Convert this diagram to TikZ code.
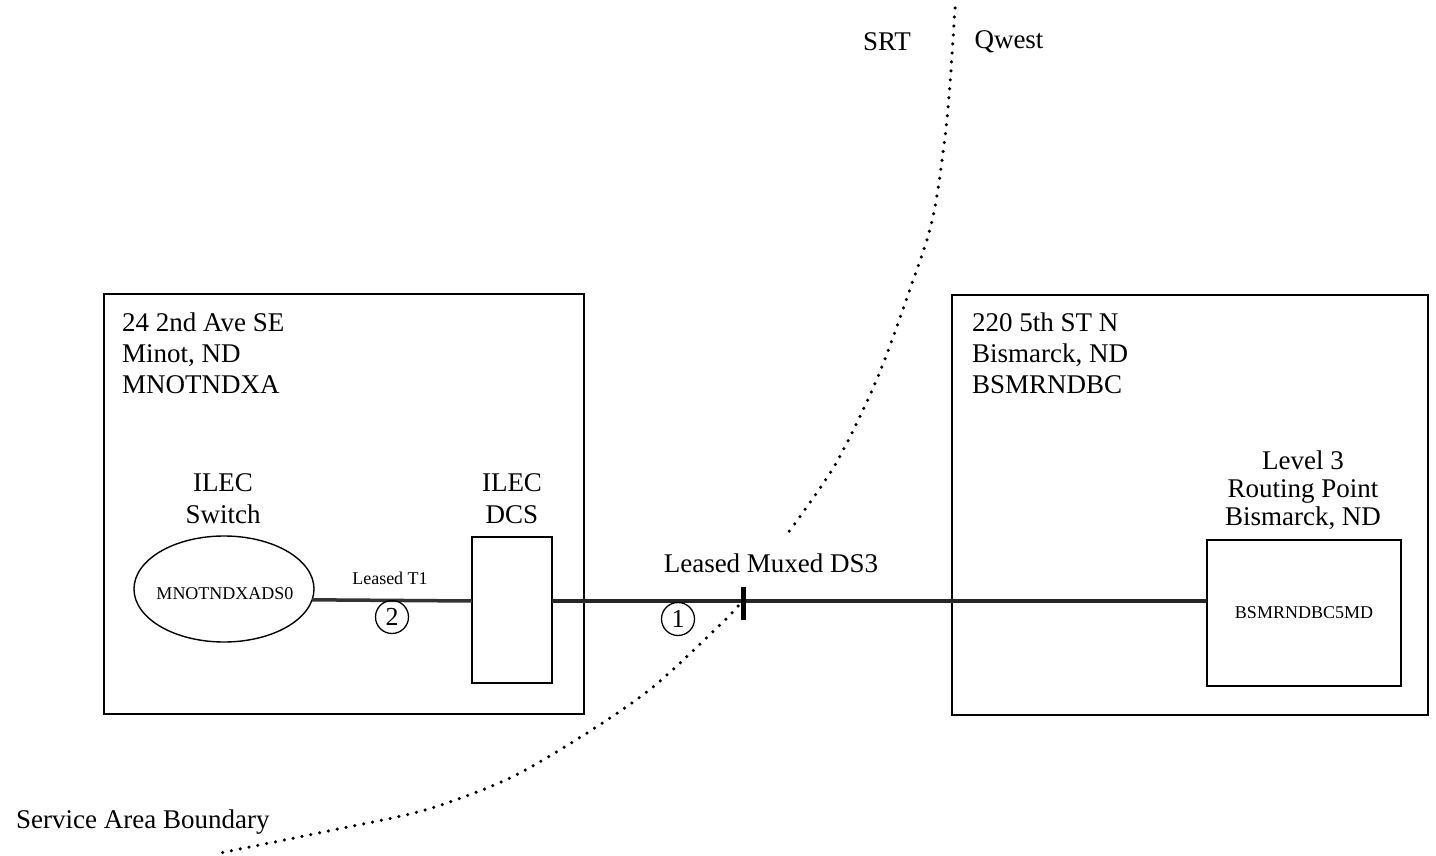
\documentclass[tikz,border=0pt]{standalone}
\usepackage{fontspec}
\setmainfont{Liberation Serif}
\usetikzlibrary{shapes.geometric}

\begin{document}
\begin{tikzpicture}[
    x=1pt, y=-1pt,
    txt/.style={font=\fontsize{27}{31}\selectfont, inner sep=0pt},
    small/.style={font=\fontsize{18}{20}\selectfont, inner sep=0pt},
    site/.style={draw, line width=1.6pt, inner sep=0pt, outer sep=0pt},
    equip/.style={draw, line width=1.4pt, inner sep=0pt, outer sep=0pt, small},
    num/.style={draw, circle, line width=1.3pt, minimum size=33pt, inner sep=0pt, font=\fontsize{26}{26}\selectfont},
    demarc/.style={fill=black, minimum width=5pt, minimum height=33pt, inner sep=0pt},
    trunk/.style={line width=4.5pt, black!85},
    leased/.style={line width=3.5pt, black!80},
    boundary/.style={line width=3.5pt, line cap=round, dash pattern=on 0pt off 9pt}
]
\useasboundingbox (0,0) rectangle (1436,856);

\node[site, minimum width=480pt, minimum height=420pt] (minot) at (344,504) {};
\node[site, minimum width=476pt, minimum height=420pt] (bismarck) at (1190,505) {};
\node[txt, anchor=north west, align=left] (minotaddr) at (122,313) {24 2nd Ave SE\\Minot, ND\\MNOTNDXA};
\node[txt, anchor=north west, align=left] (bismarckaddr) at (972,313) {220 5th ST N\\Bismarck, ND\\BSMRNDBC};

\node[equip, ellipse, minimum width=180pt, minimum height=106pt] (switch) at (224,589) {};
\node[small] (switchid) at ([xshift=1pt, yshift=-5pt]switch.center) {MNOTNDXADS0};
\node[equip, minimum width=80pt, minimum height=146pt] (dcs) at (512,610) {};
\node[equip, minimum width=194pt, minimum height=146pt] (rp) at (1304,613) {BSMRNDBC5MD};

\node[txt, align=center, font=\fontsize{27}{32}\selectfont] (switchlbl) at (223,499) {ILEC\\Switch};
\node[txt, align=center, font=\fontsize{27}{32}\selectfont] (dcslbl) at (512,499) {ILEC\\DCS};
\node[txt, align=center, font=\fontsize{27}{28}\selectfont] (rplbl) at (1303,490) {Level 3\\Routing Point\\Bismarck, ND};

\coordinate (trunkline) at (0,601);
\draw[leased] (switch.-7) -- (dcs.west |- trunkline);
\draw[trunk] (dcs.east |- trunkline) -- (rp.west |- trunkline);

\node[small] (t1lbl) at (390,578) {Leased T1};
\node[txt] (ds3lbl) at (771,563) {Leased Muxed DS3};
\node[num] (n2) at (392,617) {2};
\node[num] (n1) at (678,619) {1};
\node[demarc] (poi) at (743,603) {};

\draw[boundary] plot[smooth] coordinates {(955,8) (947,119) (933,217) (910,289) (877,379) (835,465) (785,537)};
\draw[boundary] plot[smooth] coordinates {(738,606) (720,625) (653,687) (587,733) (510,778) (425,810) (333,830) (215,854)};

\node[txt] (srt) at (887,42) {SRT};
\node[txt] (qwest) at (1009,42) {Qwest};
\node[txt, anchor=west] (sab) at (16,822) {Service Area Boundary};
\end{tikzpicture}
\end{document}
